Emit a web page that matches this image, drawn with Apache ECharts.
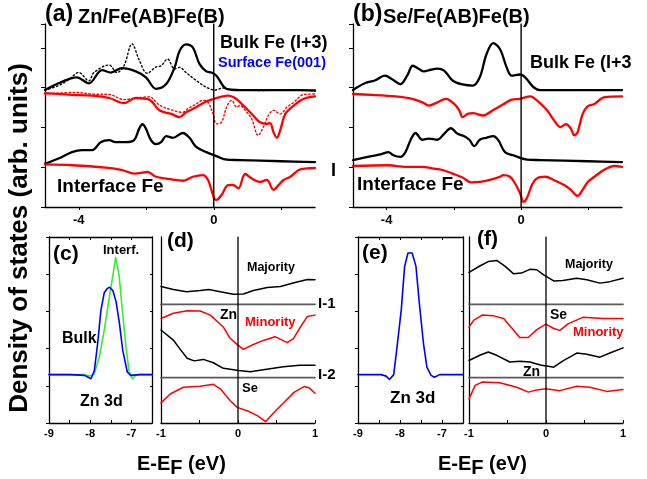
<!DOCTYPE html>
<html>
<head>
<meta charset="utf-8">
<script src="https://cdn.jsdelivr.net/npm/echarts@6/dist/echarts.min.js"></script>
<style>html,body{margin:0;padding:0;background:#fff;}#chart{width:647px;height:479px;}</style>
</head>
<body>
<div id="chart"></div>
<script>
// ---------- DATA (energy in eV, DOS in arb. units, curves already offset as in the figure) ----------
// Panel (a) Zn/Fe(AB)Fe(B)
const bulkMajA = [[-5.0,2.94],[-4.6,3.11],[-4.06,3.26],[-3.7,3.11],[-3.31,3.44],[-3.05,3.38],[-2.72,3.49],[-2.31,3.41],[-2.01,3.26],[-1.71,2.97],[-1.41,3.09],[-1.16,3.51],[-1.01,3.93],[-0.82,4.09],[-0.62,4.01],[-0.42,3.59],[-0.22,3.41],[-0.07,3.38],[0.08,3.30],[0.38,2.97],[0.78,2.94],[1.5,2.94],[2.5,2.94],[3.0,2.93]];
const bulkMinA = [[-5.0,2.86],[-4.2,2.82],[-3.6,2.80],[-3.1,2.74],[-2.66,2.61],[-2.31,2.74],[-1.91,2.70],[-1.61,2.43],[-1.26,2.34],[-1.01,2.26],[-0.82,2.38],[-0.52,2.51],[-0.22,2.65],[-0.02,2.71],[0.18,2.76],[0.43,2.80],[0.63,2.74],[0.88,2.55],[1.17,2.30],[1.37,2.13],[1.57,2.09],[1.67,2.11],[1.77,1.88],[1.87,1.74],[1.97,1.93],[2.12,2.34],[2.37,2.55],[2.67,2.72],[3.0,2.78]];
const surfMajA = [[-5.0,2.94],[-4.6,3.05],[-4.3,3.20],[-4.0,3.38],[-3.7,3.17],[-3.55,3.38],[-3.1,3.57],[-2.87,3.38],[-2.66,3.55],[-2.42,4.10],[-2.21,3.70],[-1.97,3.36],[-1.71,3.52],[-1.56,3.55],[-1.37,3.72],[-1.16,3.47],[-1.01,3.51],[-0.82,3.38],[-0.52,3.18],[-0.22,3.01],[0.03,2.94],[0.28,2.99],[0.58,2.94],[1.5,2.93],[2.5,2.95],[3.0,2.91]];
const surfMinA = [[-5.0,2.84],[-4.1,2.88],[-3.6,2.84],[-3.1,2.83],[-2.66,2.70],[-2.31,2.74],[-1.91,2.77],[-1.61,2.56],[-1.21,2.43],[-0.92,2.38],[-0.77,2.47],[-0.52,2.59],[-0.32,2.68],[-0.17,2.63],[-0.02,2.34],[0.08,2.09],[0.23,2.13],[0.38,2.51],[0.53,2.68],[0.68,2.51],[0.78,2.55],[0.93,2.43],[1.12,2.22],[1.32,1.80],[1.47,2.01],[1.62,2.30],[1.77,2.43],[1.97,2.34],[2.17,2.51],[2.37,2.63],[2.67,2.83],[3.0,2.84]];
const intMajA = [[-5.0,1.09],[-4.6,1.22],[-4.2,1.38],[-3.9,1.43],[-3.6,1.43],[-3.35,1.63],[-3.1,1.68],[-2.91,1.63],[-2.61,1.63],[-2.36,1.68],[-2.21,1.97],[-2.11,2.08],[-2.01,1.97],[-1.86,1.68],[-1.71,1.58],[-1.56,1.63],[-1.41,1.78],[-1.21,1.74],[-0.92,1.86],[-0.72,1.74],[-0.52,1.51],[-0.22,1.38],[0.08,1.28],[0.38,1.19],[0.78,1.18],[2.0,1.15],[3.0,1.13]];
const intMinA = [[-5.0,1.07],[-4.2,1.05],[-3.2,0.99],[-2.71,0.93],[-2.36,0.84],[-1.96,0.88],[-1.71,0.76],[-1.21,0.69],[-0.92,0.66],[-0.62,0.76],[-0.32,0.80],[-0.17,0.68],[-0.07,0.43],[0.03,0.19],[0.08,0.18],[0.23,0.30],[0.43,0.55],[0.58,0.55],[0.73,0.47],[0.93,0.83],[1.12,0.72],[1.37,0.63],[1.57,0.68],[1.77,0.43],[1.92,0.55],[2.07,0.68],[2.27,0.76],[2.52,0.93],[2.77,0.97],[3.0,0.98]];
// Panel (b) Se/Fe(AB)Fe(B)
const bulkMajB = [[-5.0,2.94],[-4.65,3.11],[-4.35,3.18],[-4.05,3.30],[-3.85,3.22],[-3.59,3.09],[-3.39,3.30],[-3.22,3.55],[-3.04,3.47],[-2.89,3.41],[-2.69,3.45],[-2.49,3.48],[-2.29,3.43],[-2.04,3.18],[-1.74,3.08],[-1.44,3.05],[-1.23,3.26],[-1.03,3.84],[-0.83,4.12],[-0.63,3.97],[-0.43,3.51],[-0.28,3.30],[-0.03,3.33],[0.12,3.26],[0.37,3.01],[0.57,2.94],[1.5,2.94],[2.5,2.94],[3.0,2.94]];
const bulkMinB = [[-5.0,2.84],[-4.45,2.82],[-3.74,2.78],[-3.24,2.72],[-2.94,2.63],[-2.74,2.55],[-2.49,2.63],[-2.24,2.72],[-1.99,2.59],[-1.84,2.43],[-1.74,2.26],[-1.59,2.34],[-1.44,2.36],[-1.13,2.30],[-0.83,2.44],[-0.53,2.58],[-0.28,2.70],[-0.03,2.72],[0.27,2.78],[0.47,2.68],[0.77,2.43],[1.02,2.13],[1.17,2.01],[1.33,2.08],[1.48,1.97],[1.58,1.80],[1.68,1.88],[1.83,2.34],[1.98,2.53],[2.18,2.59],[2.48,2.76],[3.0,2.78]];
const intMajB = [[-5.0,1.18],[-4.45,1.28],[-4.15,1.33],[-3.95,1.38],[-3.8,1.30],[-3.59,1.26],[-3.44,1.38],[-3.29,1.68],[-3.14,1.86],[-2.94,1.69],[-2.74,1.72],[-2.49,1.69],[-2.29,1.84],[-2.09,1.98],[-1.89,1.84],[-1.69,1.78],[-1.54,1.69],[-1.39,1.53],[-1.23,1.69],[-1.03,1.74],[-0.83,1.78],[-0.68,1.68],[-0.48,1.38],[-0.23,1.30],[0.17,1.19],[0.57,1.18],[2.0,1.15],[3.0,1.13]];
const intMinB = [[-5.0,1.03],[-3.95,1.05],[-3.44,1.01],[-2.94,1.01],[-2.64,0.97],[-2.34,0.93],[-2.04,0.84],[-1.74,0.74],[-1.49,0.62],[-1.23,0.63],[-0.93,0.68],[-0.63,0.76],[-0.53,0.80],[-0.33,0.76],[-0.18,0.59],[-0.03,0.34],[0.07,0.13],[0.17,0.22],[0.32,0.55],[0.47,0.72],[0.72,0.76],[0.97,0.68],[1.28,0.55],[1.48,0.43],[1.68,0.28],[1.83,0.43],[1.98,0.63],[2.18,0.76],[2.48,0.94],[2.78,1.03],[3.0,1.01]];
// Panel (c) Zn 3d
const zn3dBulkC = [[-9,1.30],[-8.5,1.30],[-8.14,1.28],[-7.98,1.19],[-7.90,1.41],[-7.82,2.13],[-7.74,3.03],[-7.66,3.50],[-7.58,3.62],[-7.53,3.65],[-7.45,3.56],[-7.37,3.25],[-7.29,2.67],[-7.21,1.95],[-7.10,1.37],[-7.02,1.28],[-6.8,1.30],[-6.5,1.30]];
const zn3dInterfC = [[-9,1.30],[-8.5,1.30],[-8.14,1.30],[-8.02,1.26],[-7.90,1.32],[-7.78,1.77],[-7.66,2.49],[-7.54,3.35],[-7.46,3.90],[-7.38,4.45],[-7.30,3.98],[-7.22,3.03],[-7.14,2.13],[-7.06,1.41],[-6.98,1.19],[-6.90,1.28],[-6.82,1.30],[-6.5,1.30]];
// Panel (d)
const majI1D = [[-1,3.67],[-0.84,3.59],[-0.67,3.53],[-0.49,3.56],[-0.38,3.59],[-0.23,3.53],[-0.06,3.46],[0.07,3.47],[0.20,3.56],[0.38,3.64],[0.55,3.67],[0.73,3.77],[0.90,3.86],[1.0,3.85]];
const minZnD = [[-1,2.81],[-0.84,2.95],[-0.66,3.02],[-0.49,3.01],[-0.36,2.90],[-0.19,2.58],[-0.10,2.27],[-0.005,2.10],[0.07,1.98],[0.20,2.11],[0.33,2.22],[0.48,2.32],[0.64,2.16],[0.72,2.27],[0.81,2.58],[0.90,2.86],[1.0,2.90]];
const majSeD = [[-1,2.50],[-0.84,2.23],[-0.75,1.98],[-0.66,1.74],[-0.57,1.67],[-0.45,1.71],[-0.32,1.62],[-0.19,1.47],[0.01,1.41],[0.16,1.38],[0.33,1.43],[0.59,1.51],[0.8,1.55],[1.0,1.55]];
const minSeD = [[-1,0.54],[-0.88,0.78],[-0.71,0.96],[-0.49,0.99],[-0.32,1.04],[-0.23,0.92],[-0.10,0.60],[-0.01,0.42],[0.12,0.33],[0.25,0.20],[0.36,0.04],[0.47,0.29],[0.60,0.56],[0.73,0.83],[0.86,0.98],[0.92,0.95],[1.0,0.80]];
// Panel (e) Zn 3d
const zn3dE = [[-9,1.30],[-8.45,1.30],[-8.33,1.26],[-8.25,1.17],[-8.15,1.30],[-8.08,1.95],[-7.97,3.04],[-7.89,4.21],[-7.81,4.57],[-7.71,4.57],[-7.62,4.21],[-7.54,3.22],[-7.44,2.13],[-7.36,1.50],[-7.26,1.28],[-7.18,1.23],[-7.06,1.30],[-6.5,1.30]];
// Panel (f)
const majI1F = [[-1,4.05],[-0.86,4.22],[-0.75,4.34],[-0.64,4.37],[-0.53,4.21],[-0.42,4.01],[-0.32,4.03],[-0.21,4.13],[-0.12,4.12],[-0.03,3.98],[0.10,3.82],[0.22,3.83],[0.40,3.89],[0.53,3.85],[0.70,3.76],[0.83,3.80],[1.0,3.89]];
const minSeF = [[-1,2.58],[-0.94,2.76],[-0.83,2.90],[-0.68,2.88],[-0.55,2.81],[-0.44,2.54],[-0.34,2.30],[-0.23,2.30],[-0.12,2.51],[0,2.66],[0.10,2.54],[0.18,2.49],[0.29,2.67],[0.48,2.84],[0.74,2.81],[1.0,2.81]];
const majZnF = [[-1,1.68],[-0.86,1.82],[-0.75,1.91],[-0.64,1.82],[-0.47,1.64],[-0.34,1.66],[-0.21,1.64],[-0.06,1.55],[0.05,1.52],[0.10,1.50],[0.22,1.67],[0.40,1.88],[0.53,1.85],[0.70,1.77],[0.83,1.88],[1.0,2.02]];
const minZnF = [[-1,0.65],[-0.92,1.01],[-0.83,1.10],[-0.60,1.08],[-0.38,0.96],[-0.23,0.83],[-0.12,0.89],[0,0.92],[0.18,0.87],[0.40,0.99],[0.57,0.96],[0.79,0.85],[1.0,0.90]];
// Interface separators in (d),(f) and Fermi level
const sepLevels = [3.19, 1.22];
const fermi = 0;
// Tick values / labels
const ticksAB = [-4, -2, 0, 2], labelsAB = [-4, 0];
const ticksCE = [-9, -8.5, -8, -7.5, -7], labelsCE = [-9, -8, -7];
const ticksDF = [-1, -0.5, 0, 0.5, 1], labelsDF = [-1, 0, 1];

// ---------- CHART ----------
const FF = '"Liberation Sans", Arial, Helvetica, sans-serif';
const BLACK = '#000000', RED = '#ff0000', BLUE = '#0000ff', GREEN = '#33ee33', GRAY = '#5a5a5a';

function xAx(grid, min, max, ticks, labels, fs, margin, extra) {
  return Object.assign({
    type: 'value', gridIndex: grid, min: min, max: max, position: 'bottom',
    axisLine: { show: true, onZero: false, lineStyle: { color: BLACK, width: 1.3 } },
    axisTick: { show: true, customValues: ticks, length: 3, inside: false, lineStyle: { color: BLACK, width: 1 } },
    axisLabel: { show: true, customValues: labels, color: BLACK, fontWeight: 'bold', fontSize: fs, fontFamily: FF, margin: margin },
    splitLine: { show: false }
  }, extra || {});
}
function yAx(grid, max, opts) {
  return Object.assign({
    type: 'value', gridIndex: grid, min: 0, max: max, interval: 1, position: 'left',
    axisLine: { show: true, onZero: false, lineStyle: { color: BLACK, width: 1.3 } },
    axisTick: { show: true, length: 4, inside: false, lineStyle: { color: BLACK, width: 1 } },
    axisLabel: { show: false },
    splitLine: { show: false }
  }, opts || {});
}
function topAx(grid, min, max, ticks) {
  return {
    type: 'value', gridIndex: grid, min: min, max: max, position: 'top',
    axisLine: { show: true, onZero: false, lineStyle: { color: BLACK, width: 1.3 } },
    axisTick: { show: true, customValues: ticks, length: 3, inside: true, lineStyle: { color: BLACK, width: 1 } },
    axisLabel: { show: false }, splitLine: { show: false }
  };
}
function ln(data, xi, yi, color, width, type, smooth, z) {
  return {
    type: 'line', data: data, xAxisIndex: xi, yAxisIndex: yi, showSymbol: false, symbol: 'none',
    smooth: smooth || false, silent: true, animation: false, z: z || 2,
    lineStyle: { color: color, width: width, type: type || 'solid', cap: 'round', join: 'round' }
  };
}

const grids = [
  { left: 45, top: 24, width: 270, height: 183 },   // a
  { left: 353, top: 24, width: 269, height: 183 },  // b
  { left: 49, top: 237, width: 103, height: 186 },  // c
  { left: 161, top: 237, width: 154, height: 186 }, // d
  { left: 358, top: 237, width: 105, height: 186 }, // e
  { left: 469, top: 237, width: 154, height: 186 }  // f
];

const innerTick = (t) => ({ axisTick: { show: true, customValues: t, length: 3, inside: true, lineStyle: { color: BLACK } } });
const xAxes = [
  xAx(0, -5, 3, ticksAB, labelsAB, 13, 7),        // 0 a
  xAx(1, -5, 3, ticksAB, labelsAB, 13, 7),        // 1 b
  xAx(2, -9, -6.5, ticksCE, labelsCE, 11, 5, innerTick(ticksCE)), // 2 c
  topAx(2, -9, -6.5, ticksCE),                    // 3 c top
  xAx(3, -1, 1, ticksDF, labelsDF, 11, 5, innerTick(ticksDF)),    // 4 d
  xAx(4, -9, -6.5, ticksCE, labelsCE, 11, 5, innerTick(ticksCE)), // 5 e
  topAx(4, -9, -6.5, ticksCE),                    // 6 e top
  xAx(5, -1, 1, ticksDF, labelsDF, 11, 5, innerTick(ticksDF))     // 7 f
];
const yAxes = [
  yAx(0, 4.6),                                                         // 0 a
  yAx(1, 4.6),                                                         // 1 b
  yAx(2, 5, { axisTick: { show: true, length: 3, lineStyle: { color: BLACK } } }), // 2 c
  yAx(2, 5, { position: 'right', axisTick: { show: true, inside: true, length: 2, lineStyle: { color: BLACK } } }), // 3 c right
  yAx(3, 5, { axisTick: { show: false } }),                            // 4 d
  yAx(4, 5, { axisTick: { show: true, length: 3, lineStyle: { color: BLACK } } }), // 5 e
  yAx(4, 5, { position: 'right', axisTick: { show: true, inside: true, length: 2, lineStyle: { color: BLACK } } }), // 6 e right
  yAx(5, 5, { axisTick: { show: false } })                             // 7 f
];

const SM = 0.35;
const series = [
  // (a)
  ln(surfMajA, 0, 0, BLACK, 1.4, [1.5, 2.5], SM, 1),
  ln(surfMinA, 0, 0, RED, 1.4, [1.5, 2.5], SM, 1),
  ln(bulkMajA, 0, 0, BLACK, 2.3, 'solid', SM),
  ln(bulkMinA, 0, 0, RED, 2.3, 'solid', SM),
  ln(intMajA, 0, 0, BLACK, 2.3, 'solid', SM),
  ln(intMinA, 0, 0, RED, 2.3, 'solid', SM),
  ln([[fermi, 0], [fermi, 4.6]], 0, 0, BLACK, 1.4, 'solid', false, 3),
  // (b)
  ln(bulkMajB, 1, 1, BLACK, 2.3, 'solid', SM),
  ln(bulkMinB, 1, 1, RED, 2.3, 'solid', SM),
  ln(intMajB, 1, 1, BLACK, 2.3, 'solid', SM),
  ln(intMinB, 1, 1, RED, 2.3, 'solid', SM),
  ln([[fermi, 0], [fermi, 4.6]], 1, 1, BLACK, 1.4, 'solid', false, 3),
  // (c)
  ln(zn3dInterfC, 2, 2, GREEN, 1.6),
  ln(zn3dBulkC, 2, 2, BLUE, 1.6),
  // (d)
  ln([[-1, sepLevels[0]], [1, sepLevels[0]]], 4, 4, GRAY, 1.8, 'solid', false, 1),
  ln([[-1, sepLevels[1]], [1, sepLevels[1]]], 4, 4, GRAY, 1.8, 'solid', false, 1),
  ln(majI1D, 4, 4, BLACK, 1.5),
  ln(minZnD, 4, 4, RED, 1.5),
  ln(majSeD, 4, 4, BLACK, 1.5),
  ln(minSeD, 4, 4, RED, 1.5),
  ln([[fermi, 0], [fermi, 5]], 4, 4, BLACK, 1.3, 'solid', false, 3),
  // (e)
  ln(zn3dE, 5, 5, BLUE, 1.6),
  // (f)
  ln([[-1, sepLevels[0]], [1, sepLevels[0]]], 7, 7, GRAY, 1.8, 'solid', false, 1),
  ln([[-1, sepLevels[1]], [1, sepLevels[1]]], 7, 7, GRAY, 1.8, 'solid', false, 1),
  ln(majI1F, 7, 7, BLACK, 1.5),
  ln(minSeF, 7, 7, RED, 1.5),
  ln(majZnF, 7, 7, BLACK, 1.5),
  ln(minZnF, 7, 7, RED, 1.5),
  ln([[fermi, 0], [fermi, 5]], 7, 7, BLACK, 1.3, 'solid', false, 3)
];

function txt(text, x, y, size, color, opts) {
  const o = opts || {};
  const font = 'bold ' + size + 'px ' + FF;
  return {
    type: 'text', x: x, y: y, rotation: o.rotation || 0, z: 100, silent: true,
    style: { text: text, font: font, fill: color || BLACK,
      align: o.align || 'left', verticalAlign: 'middle',
      textAlign: o.align || 'left', textVerticalAlign: 'middle' }
  };
}

const graphics = [
  txt('(a)', 45, 15, 23), txt('Zn/Fe(AB)Fe(B)', 78, 17, 20),
  txt('(b)', 353, 15, 23), txt('Se/Fe(AB)Fe(B)', 383, 17, 20),
  txt('Bulk Fe (I+3)', 220, 43, 18), txt('Surface Fe(001)', 218, 63, 14.5, BLUE),
  txt('Interface Fe', 57, 187, 19), txt('I', 331, 171, 18),
  txt('Bulk Fe (I+3', 530, 63, 18), txt('Interface Fe', 357, 185, 19),
  txt('Density of states (arb. units)', 20, 238, 26, BLACK, { align: 'center', rotation: Math.PI / 2 }),
  txt('(c)', 53, 254, 21), txt('Interf.', 103, 250, 13), txt('Bulk', 62, 339, 16), txt('Zn 3d', 80, 402, 16),
  txt('(d)', 167, 241, 21), txt('Majority', 247, 268, 12.5), txt('Zn', 220, 315, 14),
  txt('Minority', 245, 322, 13, RED), txt('Se', 242, 388, 13),
  txt('I-1', 318, 304, 15), txt('I-2', 318, 375, 15),
  txt('(e)', 362, 253, 21), txt('Zn 3d', 390, 398, 17),
  txt('(f)', 477, 239, 21), txt('Majority', 565, 265, 12.5), txt('Se', 550, 315, 14),
  txt('Minority', 573, 332, 13, RED), txt('Zn', 523, 372, 14),
  // E-E_F (eV) axis titles
  txt('E-E', 137, 464, 20), txt('F', 170.3, 468, 20), txt(' (eV)', 182.5, 464, 20),
  txt('E-E', 438, 464, 20), txt('F', 471.3, 468, 20), txt(' (eV)', 483.5, 464, 20)
];

const chart = echarts.init(document.getElementById('chart'), null, { renderer: 'canvas' });
chart.setOption({
  backgroundColor: '#ffffff',
  animation: false,
  grid: grids,
  xAxis: xAxes,
  yAxis: yAxes,
  series: series,
  graphic: { elements: graphics }
});
</script>
</body>
</html>
